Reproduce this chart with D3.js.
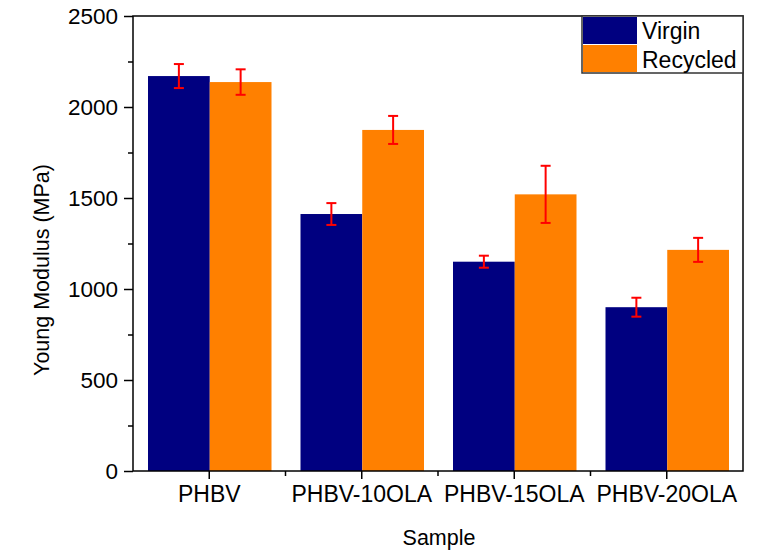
<!DOCTYPE html>
<html>
<head>
    <style>
        body { margin: 0; background: #fff; }
        text { font-family: "Liberation Sans", Arial, sans-serif; fill: #000; }
    </style>
    <script src="https://d3js.org/d3.v7.min.js"></script>
</head>
<body>
    <div id="chart"></div>
    <script>
        const samples = ["PHBV", "PHBV-10OLA", "PHBV-15OLA", "PHBV-20OLA"];
        const seriesNames = ["Virgin", "Recycled"];
        const virgin = [2170, 1412, 1150, 900];
        const virginErr = [66, 60, 33, 52];
        const recycled = [2137, 1874, 1520, 1215];
        const recycledErr = [70, 77, 157, 66];
        const yTicks = [0, 500, 1000, 1500, 2000, 2500];
        const yMinor = [250, 750, 1250, 1750, 2250];

        const colors = {Virgin: "#000080", Recycled: "#ff8000"};

        const width = 760, height = 551;
        const plotL = 133, plotR = 743, plotT = 16, plotB = 471;

        const svg = d3.select("#chart").append("svg")
            .attr("width", width)
            .attr("height", height);

        const x = d3.scaleBand().domain(samples).range([plotL, plotR]).padding(0);
        const xSub = d3.scaleBand().domain(seriesNames).range([15, x.bandwidth() - 14]);
        const y = d3.scaleLinear().domain([0, 2500]).range([plotB, plotT]);

        const rows = samples.map((s, i) => ({
            sample: s,
            values: [
                {name: "Virgin", v: virgin[i], e: virginErr[i]},
                {name: "Recycled", v: recycled[i], e: recycledErr[i]}
            ]
        }));

        // bars
        const groups = svg.selectAll(".grp")
            .data(rows)
            .enter().append("g")
            .attr("transform", d => `translate(${x(d.sample)},0)`);

        groups.selectAll("rect")
            .data(d => d.values)
            .enter().append("rect")
            .attr("x", d => xSub(d.name))
            .attr("width", xSub.bandwidth())
            .attr("y", d => y(d.v))
            .attr("height", d => y(0) - y(d.v))
            .attr("fill", d => colors[d.name]);

        // error bars
        const err = groups.selectAll(".err")
            .data(d => d.values)
            .enter().append("g")
            .attr("stroke", "#ff0000")
            .attr("stroke-width", 2);
        const cx = d => xSub(d.name) + xSub.bandwidth() / 2;
        err.append("line")
            .attr("x1", cx).attr("x2", cx)
            .attr("y1", d => y(d.v + d.e)).attr("y2", d => y(d.v - d.e));
        err.append("line")
            .attr("x1", d => cx(d) - 5).attr("x2", d => cx(d) + 5)
            .attr("y1", d => y(d.v + d.e)).attr("y2", d => y(d.v + d.e));
        err.append("line")
            .attr("x1", d => cx(d) - 5).attr("x2", d => cx(d) + 5)
            .attr("y1", d => y(d.v - d.e)).attr("y2", d => y(d.v - d.e));

        // frame
        svg.append("rect")
            .attr("x", plotL).attr("y", plotT)
            .attr("width", plotR - plotL).attr("height", plotB - plotT)
            .attr("fill", "none")
            .attr("stroke", "#000")
            .attr("stroke-width", 1.5);

        // y axis
        const yAxis = svg.append("g")
            .attr("transform", `translate(${plotL},0)`)
            .call(d3.axisLeft(y).tickValues(yTicks).tickSize(9).tickPadding(6).tickFormat(d3.format("d")));
        yAxis.select(".domain").remove();
        yAxis.selectAll("line").attr("stroke-width", 1.5);
        yAxis.selectAll("text").style("font-size", "22.5px").attr("font-family", null);
        svg.append("g")
            .attr("transform", `translate(${plotL},0)`)
            .call(d3.axisLeft(y).tickValues(yMinor).tickSize(5).tickFormat(""))
            .call(g => g.select(".domain").remove())
            .selectAll("line").attr("stroke-width", 1.5);

        // x axis
        const xAxis = svg.append("g")
            .attr("transform", `translate(0,${plotB})`)
            .call(d3.axisBottom(x).tickSize(8).tickPadding(7));
        xAxis.select(".domain").remove();
        xAxis.selectAll("line").attr("stroke-width", 1.5);
        xAxis.selectAll("text").style("font-size", "23px").attr("font-family", null);
        const bounds = samples.slice(1).map(s => x(s));
        svg.append("g").selectAll("line")
            .data(bounds)
            .enter().append("line")
            .attr("x1", d => d).attr("x2", d => d)
            .attr("y1", plotB).attr("y2", plotB + 5)
            .attr("stroke", "#000").attr("stroke-width", 1.5);

        // titles
        svg.append("text")
            .attr("transform", `translate(49,270) rotate(-90)`)
            .attr("text-anchor", "middle")
            .style("font-size", "21.5px")
            .text("Young Modulus (MPa)");
        svg.append("text")
            .attr("x", 439).attr("y", 545)
            .attr("text-anchor", "middle")
            .style("font-size", "21.5px")
            .text("Sample");

        // legend
        const legend = svg.append("g");
        legend.append("rect")
            .attr("x", 582).attr("y", 16)
            .attr("width", plotR - 582).attr("height", 57)
            .attr("fill", "#fff").attr("stroke", "#333").attr("stroke-width", 1.5);
        seriesNames.forEach((name, i) => {
            legend.append("rect")
                .attr("x", 583).attr("y", 17 + i * 28)
                .attr("width", 54).attr("height", 27)
                .attr("fill", colors[name]);
            legend.append("text")
                .attr("x", 642).attr("y", 39 + i * 29)
                .style("font-size", "23px")
                .text(name);
        });
    </script>
</body>
</html>
